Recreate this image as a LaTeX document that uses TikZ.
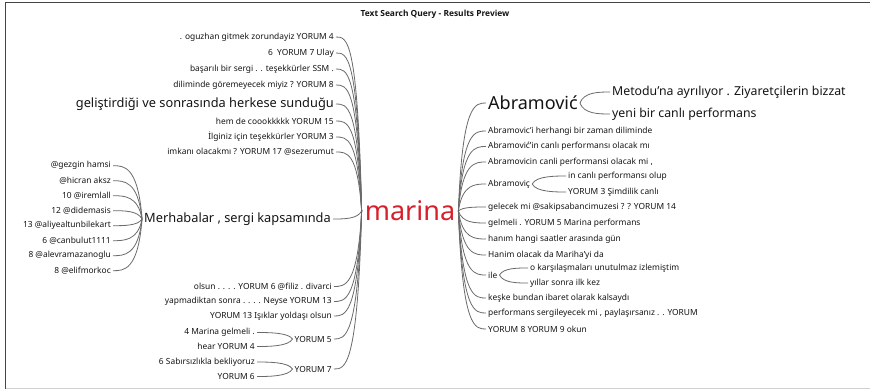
\documentclass[tikz,border=0pt]{standalone}
\usepackage{fontspec}
\setmainfont{Noto Sans}
\newfontfamily\titlefont{Open Sans}
\usetikzlibrary{calc}
\definecolor{txtc}{HTML}{141414}
\definecolor{linec}{HTML}{6A6A6A}
\definecolor{marinared}{HTML}{D7202C}
\definecolor{framec}{HTML}{444444}
\definecolor{framel}{HTML}{D0D0D0}
\newcommand\fanto[3]{%
  \draw[conn] let \p1=(#1), \p2=(#2) in (\p1) .. controls ({\x1+#3*4pt},\y2) and ({\x2-#3*11pt},\y2) .. (\p2);}
\begin{document}
\begin{tikzpicture}[x=1pt,y=-1pt,
  txt/.style={inner xsep=2pt, inner ysep=0pt, text=txtc, font=\fontsize{8.4}{10}\selectfont},
  bigtxt/.style={txt, font=\fontsize{12.8}{14}\selectfont},
  bigtxtr/.style={txt, font=\fontsize{12.3}{14}\selectfont},
  hugetxt/.style={txt, font=\fontsize{18}{20}\selectfont},
  lft/.style={anchor=east},
  rgt/.style={anchor=west},
  conn/.style={draw=linec, line width=0.8pt}]
\useasboundingbox (0,0) rectangle (870,389);
\draw[draw=framec, line width=1.6pt] (870,2.5) -- (5.5,2.5) -- (5.5,388.5);
\draw[draw=framel, line width=1pt] (5.5,388.5) -- (870,388.5);
\node[txt, font=\titlefont\bfseries\fontsize{8.4}{10}\selectfont] (title) at (435,14) {Text Search Query - Results Preview};

\node[inner xsep=3pt, inner ysep=0pt, text=marinared, font=\fontsize{27}{30}\selectfont] (marina) at (410,211) {marina};

% left top
\node[txt,lft] (L1) at (336,37) {. oguzhan gitmek zorundayiz YORUM 4};
\node[txt,lft] (L2) at (336,53) {6\ \ YORUM 7 Ulay};
\node[txt,lft] (L3) at (336,69) {başarılı bir sergi . . teşekkürler SSM .};
\node[txt,lft] (L4) at (336,85) {diliminde göremeyecek miyiz ? YORUM 8};
\node[bigtxt,lft] (L5) at (336,104) {geliştirdiği ve sonrasında herkese sunduğu};
\node[txt,lft] (L6) at (336,121) {hem de coookkkkk YORUM 15};
\node[txt,lft] (L7) at (336,137) {İlginiz için teşekkürler YORUM 3};
\node[txt,lft] (L8) at (336,152) {imkanı olacakmı ? YORUM 17 @sezerumut};

\node[bigtxt,lft] (M) at (333,219) {Merhabalar , sergi kapsamında};
\node[txt,lft] (G1) at (113,165.7) {@gezgin hamsi};
\node[txt,lft] (G2) at (113,180.7) {@hicran aksz};
\node[txt,lft] (G3) at (113,195.7) {10 @iremlall};
\node[txt,lft] (G4) at (113,210.7) {12 @didemasis};
\node[txt,lft] (G5) at (113,225.7) {13 @aliyealtunbilekart};
\node[txt,lft] (G6) at (113,240.7) {6 @canbulut1111};
\node[txt,lft] (G7) at (113,255.7) {8 @alevramazanoglu};
\node[txt,lft] (G8) at (113,270.7) {8 @elifmorkoc};

\node[txt,lft] (B1) at (334,286.5) {olsun . . . . YORUM 6 @filiz . divarci};
\node[txt,lft] (B2) at (334,301.5) {yapmadiktan sonra . . . . Neyse YORUM 13};
\node[txt,lft] (B3) at (334,316) {YORUM 13 Işıklar yoldaşı olsun};
\node[txt,lft] (Y5) at (334,339) {YORUM 5};
\node[txt,lft] (Y5a) at (257,332.5) {4 Marina gelmeli .};
\node[txt,lft] (Y5b) at (257,346.5) {hear YORUM 4};
\node[txt,lft] (Y7) at (334,369) {YORUM 7};
\node[txt,lft] (Y7a) at (257,362) {6 Sabırsızlıkla bekliyoruz};
\node[txt,lft] (Y7b) at (257,376.5) {YORUM 6};

% right
\node[hugetxt,rgt] (RA) at (486,103) {Abramović};
\node[bigtxtr,rgt] (RAa) at (610,92) {Metodu’na ayrılıyor . Ziyaretçilerin bizzat};
\node[bigtxtr,rgt] (RAb) at (610,114) {yeni bir canlı performans};
\node[txt,rgt] (R1) at (486,131) {Abramovic'i herhangi bir zaman diliminde};
\node[txt,rgt] (R2) at (486,146.5) {Abramović'in canlı performansı olacak mı};
\node[txt,rgt] (R3) at (486,162) {Abramovicin canli performansi olacak mi ,};
\node[txt,rgt] (RB) at (486,184) {Abramoviç};
\node[txt,rgt] (RBa) at (566,176) {in canlı performansı olup};
\node[txt,rgt] (RBb) at (566,192) {YORUM 3 Şimdilik canlı};
\node[txt,rgt] (R4) at (486,207) {gelecek mi @sakipsabancimuzesi ? ? YORUM 14};
\node[txt,rgt] (R5) at (486,223) {gelmeli . YORUM 5 Marina performans};
\node[txt,rgt] (R6) at (486,239) {hanım hangi saatler arasında gün};
\node[txt,rgt] (R7) at (486,255) {Hanim olacak da Mariha'yi da};
\node[txt,rgt] (RC) at (486,275) {ile};
\node[txt,rgt] (RCa) at (528,268) {o karşılaşmaları unutulmaz izlemiştim};
\node[txt,rgt] (RCb) at (528,283) {yıllar sonra ilk kez};
\node[txt,rgt] (R8) at (486,298) {keşke bundan ibaret olarak kalsaydı};
\node[txt,rgt] (R9) at (486,313) {performans sergileyecek mi , paylaşırsanız . . YORUM};
\node[txt,rgt] (R10) at (486,329) {YORUM 8 YORUM 9 okun};

% connectors left
\foreach \nm in {L1,L2,L3,L4,L5,L6,L7,L8,M,B1,B2,B3,Y5,Y7} {\fanto{marina.west}{\nm.east}{-1}}
\foreach \nm in {G1,G2,G3,G4,G5,G6,G7,G8} {\fanto{M.west}{\nm.east}{-1}}
\foreach \nm in {Y5a,Y5b} {\fanto{Y5.west}{\nm.east}{-1}}
\foreach \nm in {Y7a,Y7b} {\fanto{Y7.west}{\nm.east}{-1}}
% connectors right
\foreach \nm in {RA,R1,R2,R3,RB,R4,R5,R6,R7,RC,R8,R9,R10} {\fanto{marina.east}{\nm.west}{1}}
\foreach \nm in {RAa,RAb} {\fanto{RA.east}{\nm.west}{1}}
\foreach \nm in {RBa,RBb} {\fanto{RB.east}{\nm.west}{1}}
\foreach \nm in {RCa,RCb} {\fanto{RC.east}{\nm.west}{1}}
\end{tikzpicture}
\end{document}
